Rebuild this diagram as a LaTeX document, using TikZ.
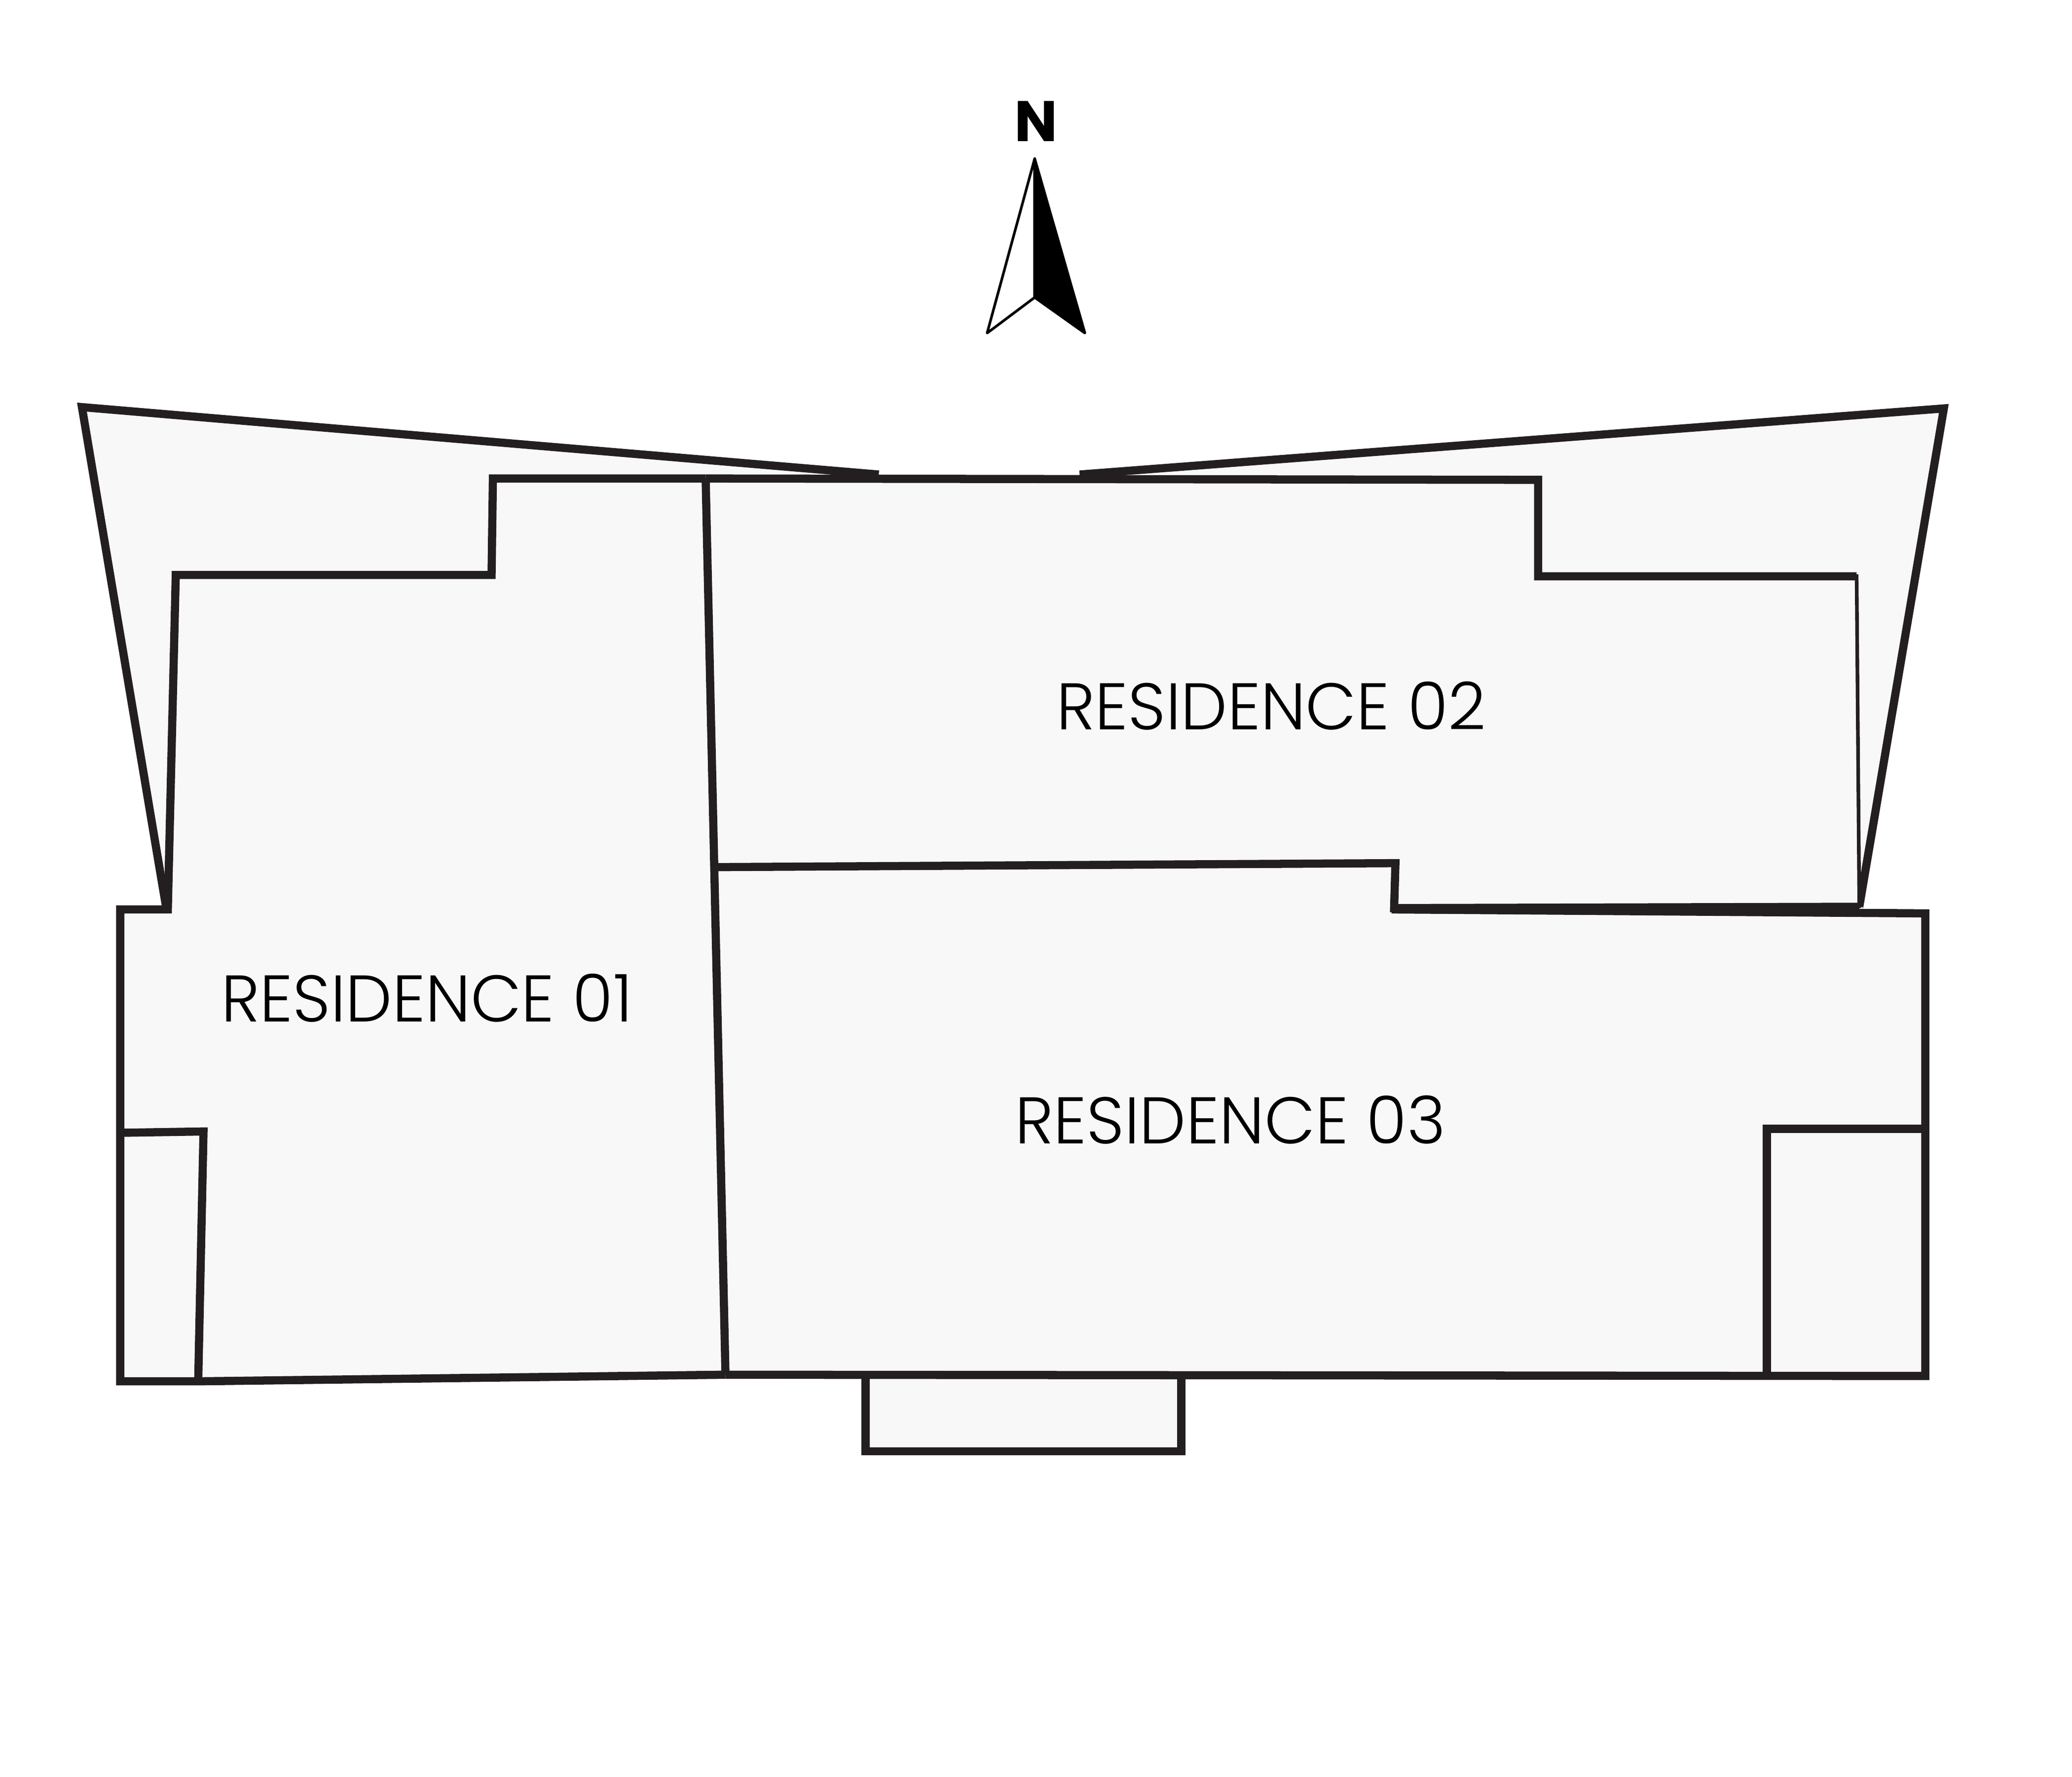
\documentclass[tikz,border=0pt]{standalone}
\usepackage{fontspec}
\setmainfont{Poppins}[UprightFont=* Light,BoldFont=* Bold]
\newfontfamily\labelfont{Poppins}[UprightFont=* Light]
\definecolor{wallink}{HTML}{231F20}
\definecolor{floorfill}{HTML}{F8F8F8}
\tikzset{
  floorarea/.style={fill=floorfill,draw=none},
  wall/.style={draw=wallink,line width=4.7pt,miter limit=30,line join=miter},
  thinwall/.style={draw=wallink,line width=2.1pt},
  reslabel/.style={anchor=base,inner sep=0pt,text=black,font=\labelfont\fontsize{38}{38}\selectfont},
  northlabel/.style={anchor=base,inner sep=0pt,text=black,font=\bfseries\fontsize{33}{33}\selectfont},
  arrowline/.style={draw=black,line width=1.5pt,line join=round}
}
\begin{document}
\begin{tikzpicture}[x=42cm/1568,y=-42cm/1568]
\useasboundingbox (0,0) rectangle (1568,1344);
% north arrow
\node[northlabel] (north) at (784,107) {N};
\fill[white] (783,120) -- (747,252) -- (783,225) -- cycle;
\fill[black,draw=black,line width=1.5pt,line join=round] (783,120) -- (821,252) -- (783,225) -- cycle;
\draw[arrowline] (783,120) -- (747,252) -- (783,225) -- cycle;
% rear terrace
\path[floorarea] (62,308) -- (665,359) -- (817,359) -- (1471,309) -- (1407,687) -- (126,687) -- cycle;
\draw[wall] (665,359) -- (62,308) -- (126,688);
\draw[wall] (817,359) -- (1471,309) -- (1407,686);
% floors
\path[floorarea] (91,688) -- (127,688) -- (133,435) -- (372,435) -- (373,362) -- (1164,363) -- (1164,436) -- (1405,436) -- (1407,689) -- (1457,691) -- (1457,1041) -- (150,1045) -- (91,1045) -- cycle;
\path[floorarea] (655,1040) rectangle (894,1098);
% Residence 01
\draw[wall] (150,1045) -- (91,1045) -- (91,688) -- (127,688) -- (133,435) -- (372,435) -- (373,362) -- (534,362);
\draw[wall] (534,362) -- (549,1040);
\draw[wall] (150,1045) -- (549,1040);
\draw[wall] (91,857) -- (154,856) -- (150,1045);
% Residence 02
\draw[wall] (534,362) -- (1164,363) -- (1164,436) -- (1405,436);
\draw[thinwall] (1405,434.5) -- (1407,687);
\draw[wall] (541,656) -- (1056,653) -- (1055,687) -- (1407,686);
% Residence 03
\draw[wall] (1053,688) -- (1457,691) -- (1457,1041) -- (549,1040);
\draw[wall] (1337,1041) -- (1337,854) -- (1457,854);
% entry
\draw[wall] (655,1040) -- (655,1098) -- (894,1098) -- (894,1040);
% labels
\node[reslabel] (r1) at (323,773) {RESIDENCE 01};
\node[reslabel] (r2) at (962,552) {RESIDENCE 02};
\node[reslabel] (r3) at (931,865) {RESIDENCE 03};
\end{tikzpicture}
\end{document}
